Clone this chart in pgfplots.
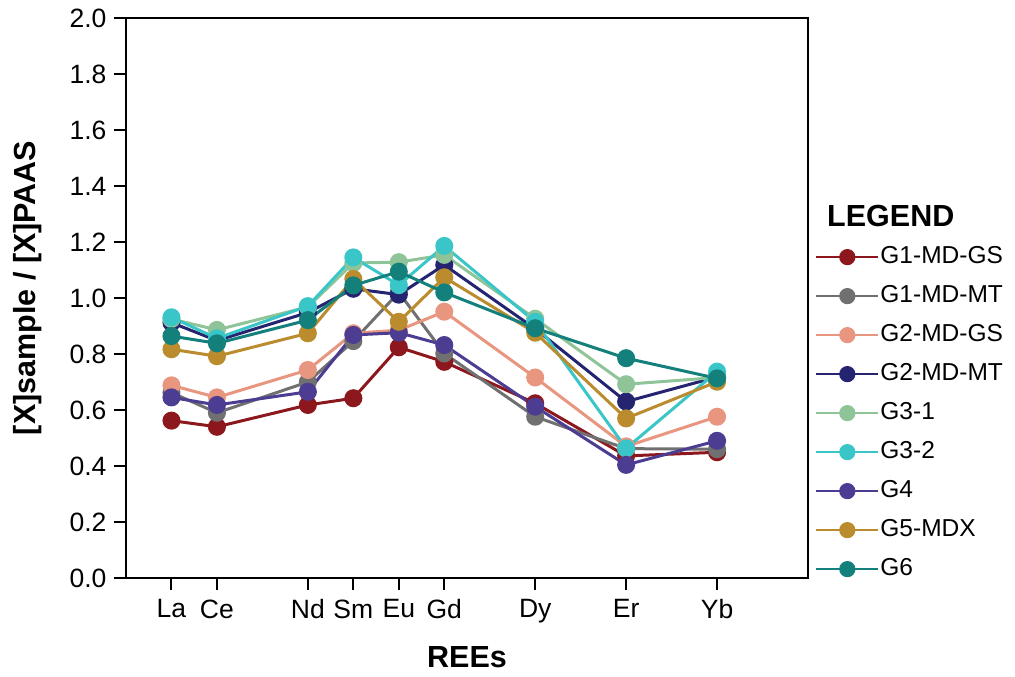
\documentclass[border=0pt]{standalone}
\usepackage{pgfplots}
\pgfplotsset{compat=1.18}
\usepackage{fontspec}
\setmainfont{Liberation Sans}
\definecolor{cG1GS}{RGB}{140,24,30}
\definecolor{cG1MT}{RGB}{112,112,112}
\definecolor{cG2GS}{RGB}{232,150,127}
\definecolor{cG2MT}{RGB}{36,36,112}
\definecolor{cG31}{RGB}{143,196,152}
\definecolor{cG32}{RGB}{58,198,200}
\definecolor{cG4}{RGB}{76,60,146}
\definecolor{cG5}{RGB}{186,140,46}
\definecolor{cG6}{RGB}{20,128,124}
% x positions: La=1 Ce=2 Nd=4 Sm=5 Eu=6 Gd=7 Dy=9 Er=11 Yb=13
\pgfplotstableread{
x   g1gs  g1mt  g2gs  g2mt  g31   g32   g4    g5    g6
1   0.562 0.662 0.688 0.912 0.925 0.931 0.645 0.817 0.864
2   0.540 0.590 0.645 0.848 0.886 0.856 0.618 0.792 0.838
4   0.618 0.700 0.743 0.948 0.968 0.971 0.665 0.874 0.921
5   0.642 0.846 0.874 1.033 1.125 1.145 0.868 1.068 1.045
6   0.824 1.020 0.885 1.012 1.128 1.046 0.876 0.915 1.094
7   0.772 0.802 0.951 1.118 1.154 1.186 0.832 1.074 1.020
9   0.624 0.576 0.716 0.890 0.926 0.915 0.612 0.876 0.892
11  0.436 0.462 0.470 0.630 0.692 0.463 0.404 0.570 0.785
13  0.449 0.460 0.576 0.718 0.716 0.737 0.490 0.701 0.713
}\ree
\begin{document}
\begin{tikzpicture}
\path[use as bounding box] (-126pt,-99pt) rectangle (889pt,578pt);
\begin{axis}[
  at={(0pt,0pt)}, anchor=south west,
  scale only axis, width=682pt, height=560pt,
  xmin=0, xmax=15, ymin=0, ymax=2,
  xtick={1,2,4,5,6,7,9,11,13},
  xticklabels={La,Ce,Nd,Sm,Eu,Gd,Dy,Er,Yb},
  ytick={0,0.2,...,2.0},
  yticklabel style={/pgf/number format/.cd,fixed,fixed zerofill,precision=1,/tikz/.cd,xshift=-4pt},
  xticklabel style={yshift=-6pt},
  /pgf/number format/assume math mode=true,
  tick label style={font=\fontsize{26.5}{29}\selectfont, black},
  tick align=outside, tick pos=left,
  major tick length=12pt,
  axis line style={line width=2pt, black},
  every tick/.style={line width=2pt, black},
  xlabel={REEs},
  ylabel={[X]sample / [X]PAAS},
  label style={font=\bfseries\fontsize{30.5}{33}\selectfont},
  xlabel style={at={(axis description cs:0.5,-0.1607)}, anchor=base},
  ylabel style={at={(axis description cs:-0.1437,0.518)}, anchor=center, rotate=0},
  clip=false,
  every axis plot/.append style={line width=3pt, mark=*, mark size=7.5pt, mark options={solid}},
  legend style={at={(axis description cs:1.0103,0.593)}, anchor=north west,
     draw=none, fill=none, inner sep=0pt, row sep=17pt,
     font=\fontsize{24.5}{27}\selectfont,
     nodes={inner sep=1pt, text height=16pt, text depth=4pt}},
  legend cell align=left,
  legend image code/.code={\draw[line width=2.2pt, mark repeat=2, mark phase=2, mark size=7pt] plot coordinates {(0pt,0pt) (31pt,0pt) (62pt,0pt)};},
]
\addplot[color=cG1GS] table[x=x,y=g1gs]{\ree};
\addlegendentry{G1-MD-GS}
\addplot[color=cG1MT] table[x=x,y=g1mt]{\ree};
\addlegendentry{G1-MD-MT}
\addplot[color=cG2GS] table[x=x,y=g2gs]{\ree};
\addlegendentry{G2-MD-GS}
\addplot[color=cG2MT] table[x=x,y=g2mt]{\ree};
\addlegendentry{G2-MD-MT}
\addplot[color=cG31] table[x=x,y=g31]{\ree};
\addlegendentry{G3-1}
\addplot[color=cG32] table[x=x,y=g32]{\ree};
\addlegendentry{G3-2}
\addplot[color=cG4] table[x=x,y=g4]{\ree};
\addlegendentry{G4}
\addplot[color=cG5] table[x=x,y=g5]{\ree};
\addlegendentry{G5-MDX}
\addplot[color=cG6] table[x=x,y=g6]{\ree};
\addlegendentry{G6}
\node[anchor=base west, inner sep=0pt, font=\bfseries\fontsize{30.5}{33}\selectfont] at (axis description cs:1.0279,0.6268) {LEGEND};
\end{axis}
\end{tikzpicture}
\end{document}
